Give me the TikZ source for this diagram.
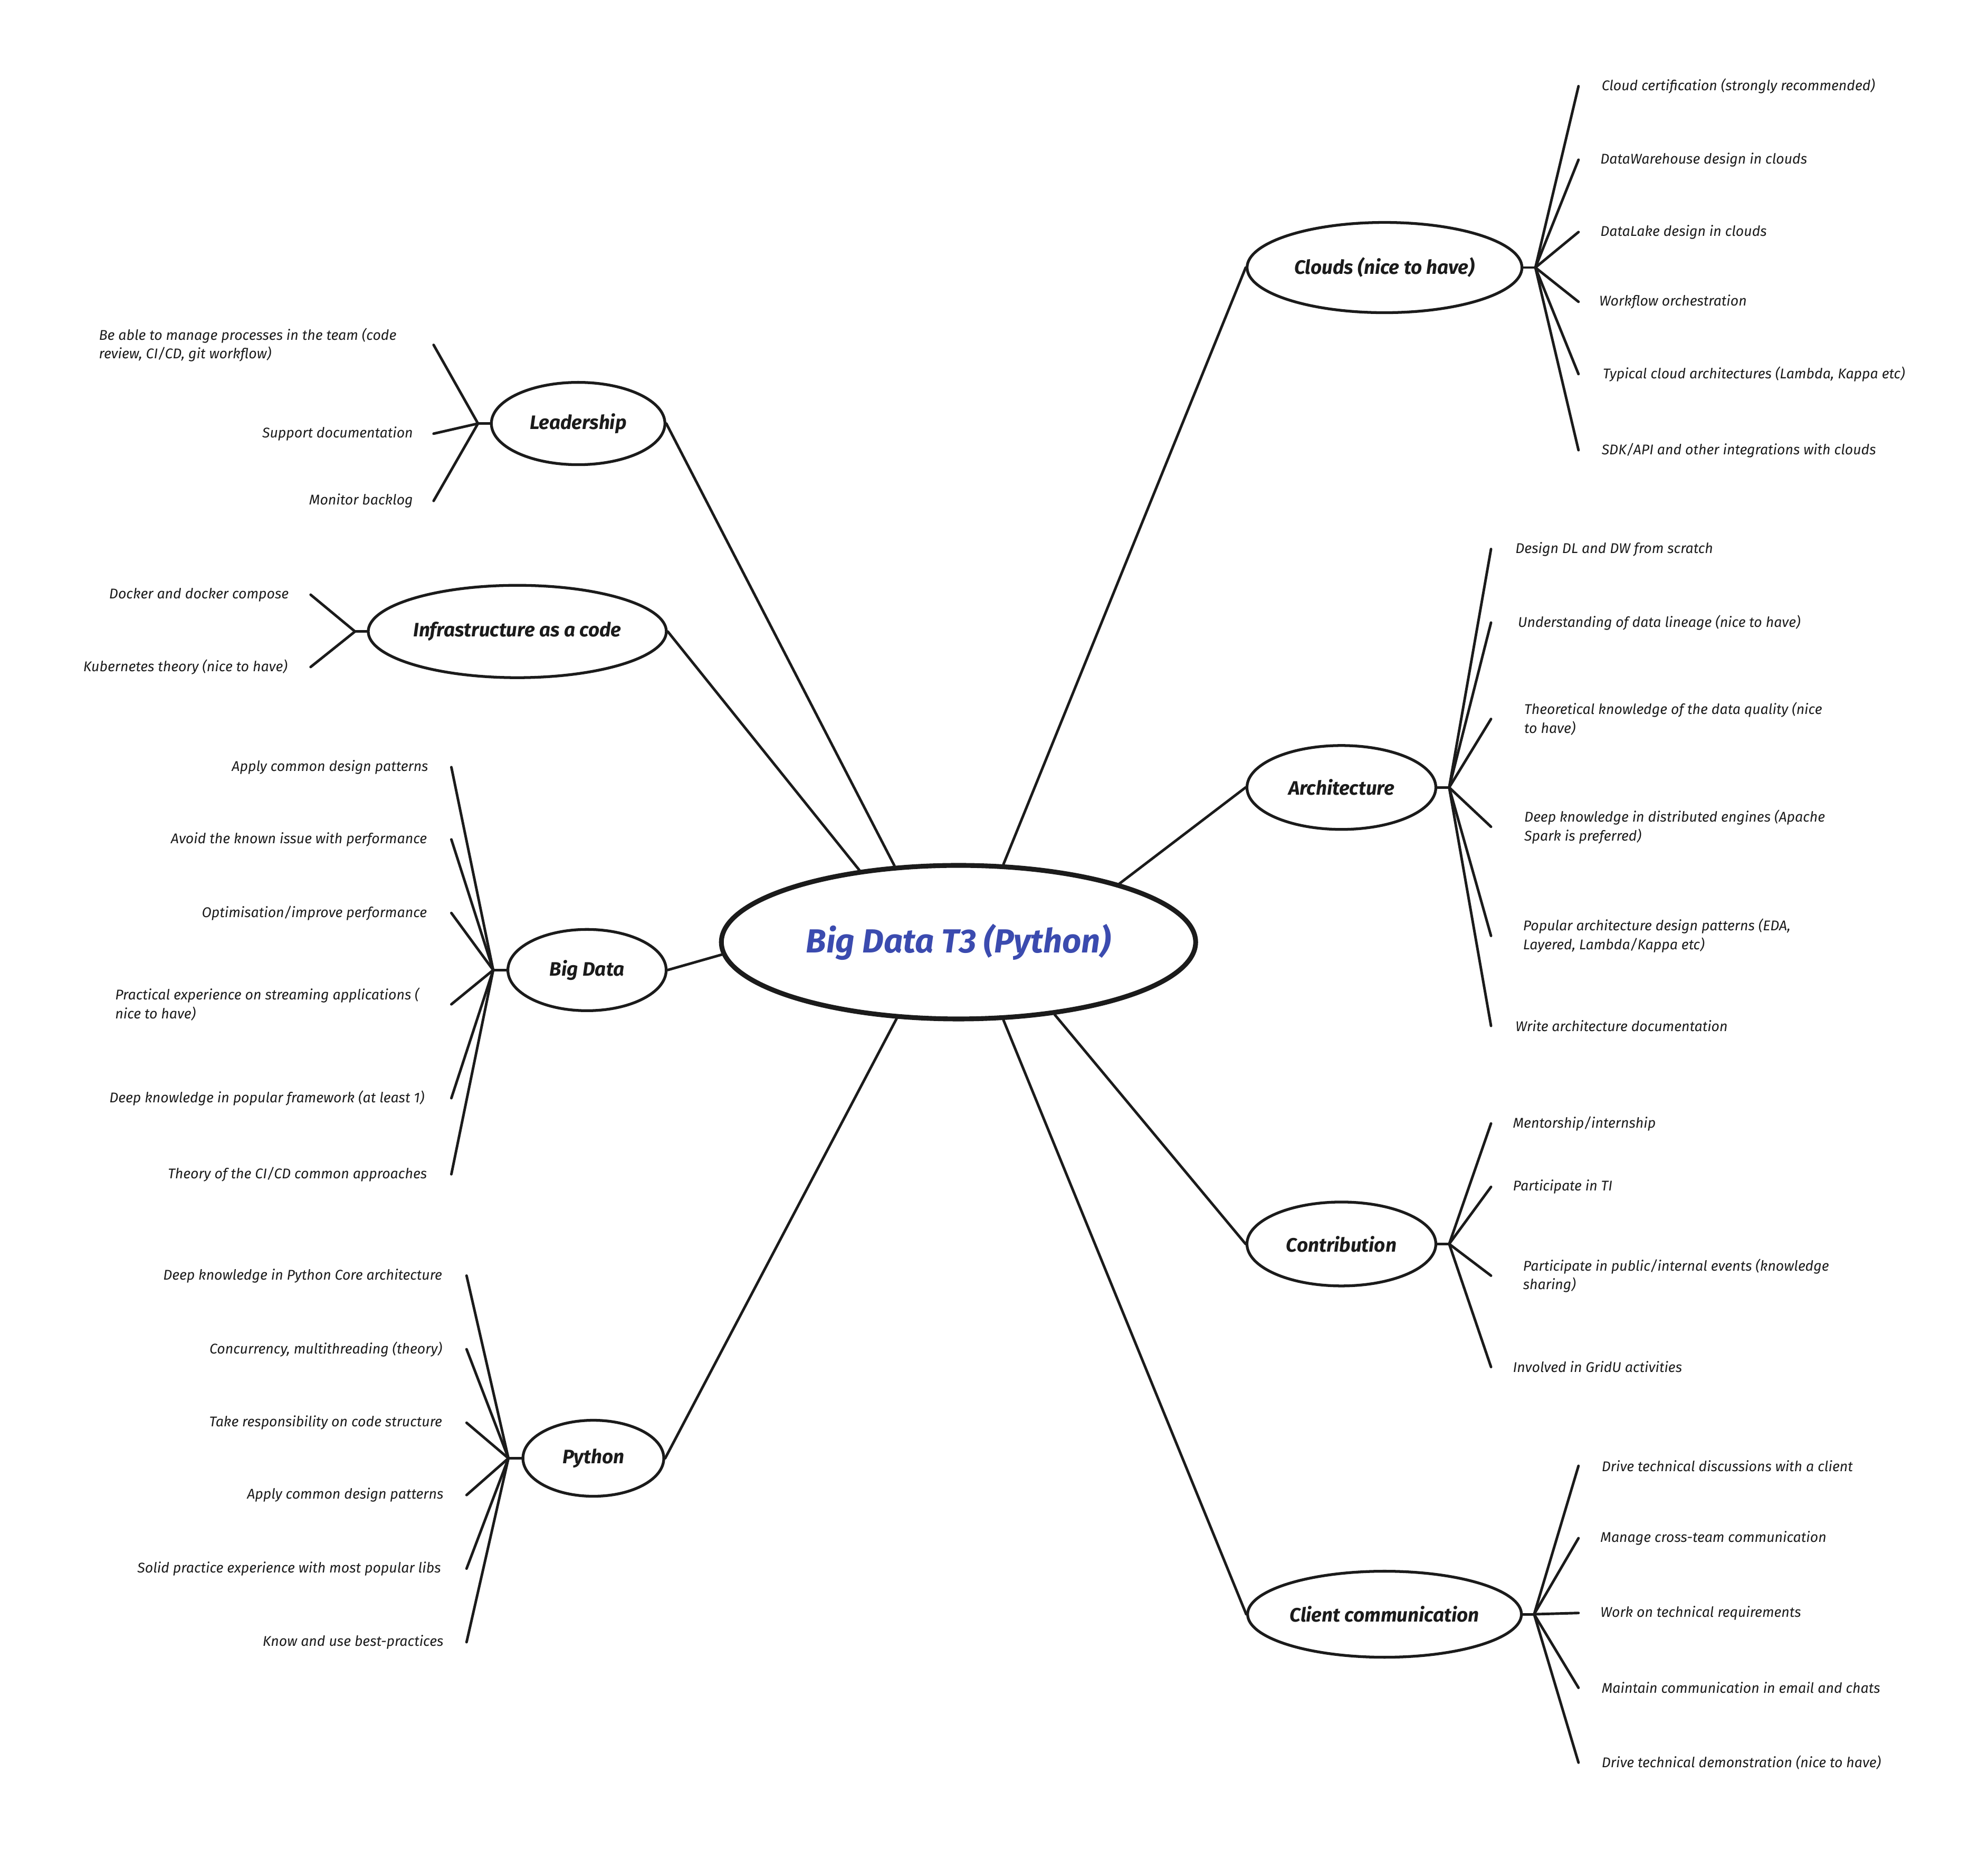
\documentclass[tikz,border=0pt]{standalone}
\usepackage{fontspec}
\setmainfont{Fira Sans}
\usetikzlibrary{shapes.geometric}
\definecolor{ink}{HTML}{1B1B1B}
\definecolor{rootblue}{HTML}{3B4BAF}
\tikzset{
  mapnode/.style={ellipse,draw=ink,line width=1.5pt,inner sep=0pt,text=ink,
    font=\bfseries\itshape\fontsize{10.5}{12}\selectfont},
  rootnode/.style={mapnode,line width=2.6pt,text=rootblue,
    font=\bfseries\itshape\fontsize{18}{21}\selectfont},
  leafL/.style={anchor=east,align=left,inner sep=0pt,text=ink,
    font=\itshape\fontsize{7.6}{10.2}\selectfont},
  leafR/.style={leafL,anchor=west},
  twig/.style={draw=ink,line width=1.4pt,line cap=round},
}

\begin{document}
\begin{tikzpicture}[x=0.02403cm,y=-0.02403cm]
  \fill[white] (0,0) rectangle (1568,1458);
  \useasboundingbox (0,0) rectangle (1568,1458);
  \node[rootnode,minimum width=8.99cm,minimum height=2.91cm] (root) at (756,743) {Big Data T3 (Python)};

  % left branches
  \node[mapnode,minimum width=3.29cm,minimum height=1.56cm] (lead) at (456,334) {Leadership};
  \node[mapnode,minimum width=5.65cm,minimum height=1.75cm] (infra) at (408,498) {Infrastructure as a code};
  \node[mapnode,minimum width=3.0cm,minimum height=1.54cm] (bigdata) at (463,765) {Big Data};
  \node[mapnode,minimum width=2.67cm,minimum height=1.44cm] (python) at (468,1150) {Python};
  % right branches
  \node[mapnode,minimum width=5.21cm,minimum height=1.71cm] (clouds) at (1092,211) {Clouds (nice to have)};
  \node[mapnode,minimum width=3.58cm,minimum height=1.59cm] (arch) at (1058,621) {Architecture};
  \node[mapnode,minimum width=3.58cm,minimum height=1.59cm] (contrib) at (1058,981) {Contribution};
  \node[mapnode,minimum width=5.19cm,minimum height=1.63cm] (client) at (1092,1273) {Client communication};

  \draw[twig] (lead.east) -- (root.130);
  \draw[twig] (infra.east) -- (root.144);
  \draw[twig] (bigdata.east) -- (root.183);
  \draw[twig] (python.east) -- (root.231);
  \draw[twig] (clouds.west) -- (root.60);
  \draw[twig] (arch.west) -- (root.20);
  \draw[twig] (contrib.west) -- (root.323);
  \draw[twig] (client.west) -- (root.300.5);

  % hubs
  \coordinate (lead-hub) at (377,334);
  \coordinate (infra-hub) at (280,498);
  \coordinate (bigdata-hub) at (389,765);
  \coordinate (python-hub) at (401,1150);
  \coordinate (clouds-hub) at (1211,211);
  \coordinate (arch-hub) at (1143,621);
  \coordinate (contrib-hub) at (1143,981);
  \coordinate (client-hub) at (1210,1273);
  \foreach \b/\side in {lead/west,infra/west,bigdata/west,python/west,clouds/east,arch/east,contrib/east,client/east}
    \draw[twig] (\b.\side) -- (\b-hub);

  % leaves, left side
  \foreach \i/\y/\tx/\txt in {
    1/272/313/{Be able to manage processes in the team (code\\review, CI/CD, git workflow)},
    2/342/326/{Support documentation},
    3/395/326/{Monitor backlog}} {
    \coordinate (lead-\i) at (342,\y);
    \node[leafL] (lead-txt-\i) at (\tx,\y) {\txt};
    \draw[twig] (lead-hub) -- (lead-\i);
  }
  \foreach \i/\y/\tx/\txt in {
    1/469/228/{Docker and docker compose},
    2/526/227/{Kubernetes theory (nice to have)}} {
    \coordinate (infra-\i) at (245,\y);
    \node[leafL] (infra-txt-\i) at (\tx,\y) {\txt};
    \draw[twig] (infra-hub) -- (infra-\i);
  }
  \foreach \i/\y/\tx/\txt in {
    1/605/338/{Apply common design patterns},
    2/662/337/{Avoid the known issue with performance},
    3/720/337/{Optimisation/improve performance},
    4/792/331/{Practical experience on streaming applications (\\nice to have)},
    5/866/335/{Deep knowledge in popular framework (at least 1)},
    6/926/337/{Theory of the CI/CD common approaches}} {
    \coordinate (bigdata-\i) at (356,\y);
    \node[leafL] (bigdata-txt-\i) at (\tx,\y) {\txt};
    \draw[twig] (bigdata-hub) -- (bigdata-\i);
  }
  \foreach \i/\y/\tx/\txt in {
    1/1006/349/{Deep knowledge in Python Core architecture},
    2/1064/349/{Concurrency, multithreading (theory)},
    3/1122/349/{Take responsibility on code structure},
    4/1179/350/{Apply common design patterns},
    5/1237/348/{Solid practice experience with most popular libs},
    6/1295/350/{Know and use best-practices}} {
    \coordinate (python-\i) at (368,\y);
    \node[leafL] (python-txt-\i) at (\tx,\y) {\txt};
    \draw[twig] (python-hub) -- (python-\i);
  }

  % leaves, right side
  \foreach \i/\y/\tx/\txt in {
    1/68/1263/{Cloud certification (strongly recommended)},
    2/126/1262/{DataWarehouse design in clouds},
    3/183/1262/{DataLake design in clouds},
    4/238/1261/{Workflow orchestration},
    5/295/1264/{Typical cloud architectures (Lambda, Kappa etc)},
    6/355/1263/{SDK/API and other integrations with clouds}} {
    \coordinate (clouds-\i) at (1245,\y);
    \node[leafR] (clouds-txt-\i) at (\tx,\y) {\txt};
    \draw[twig] (clouds-hub) -- (clouds-\i);
  }
  \foreach \i/\y/\tx/\txt in {
    1/433/1195/{Design DL and DW from scratch},
    2/491/1197/{Understanding of data lineage (nice to have)},
    3/567/1202/{Theoretical knowledge of the data quality (nice\\to have)},
    4/652/1202/{Deep knowledge in distributed engines (Apache\\Spark is preferred)},
    5/738/1201/{Popular architecture design patterns (EDA,\\Layered, Lambda/Kappa etc)},
    6/809/1195/{Write architecture documentation}} {
    \coordinate (arch-\i) at (1176,\y);
    \node[leafR] (arch-txt-\i) at (\tx,\y) {\txt};
    \draw[twig] (arch-hub) -- (arch-\i);
  }
  \foreach \i/\y/\tx/\txt in {
    1/886/1193/{Mentorship/internship},
    2/936/1193/{Participate in TI},
    3/1006/1201/{Participate in public/internal events (knowledge\\sharing)},
    4/1078/1193/{Involved in GridU activities}} {
    \coordinate (contrib-\i) at (1176,\y);
    \node[leafR] (contrib-txt-\i) at (\tx,\y) {\txt};
    \draw[twig] (contrib-hub) -- (contrib-\i);
  }
  \foreach \i/\y/\tx/\txt in {
    1/1156/1263/{Drive technical discussions with a client},
    2/1213/1262/{Manage cross-team communication},
    3/1272/1262/{Work on technical requirements},
    4/1331/1263/{Maintain communication in email and chats},
    5/1390/1263/{Drive technical demonstration (nice to have)}} {
    \coordinate (client-\i) at (1245,\y);
    \node[leafR] (client-txt-\i) at (\tx,\y) {\txt};
    \draw[twig] (client-hub) -- (client-\i);
  }
\end{tikzpicture}
\end{document}
